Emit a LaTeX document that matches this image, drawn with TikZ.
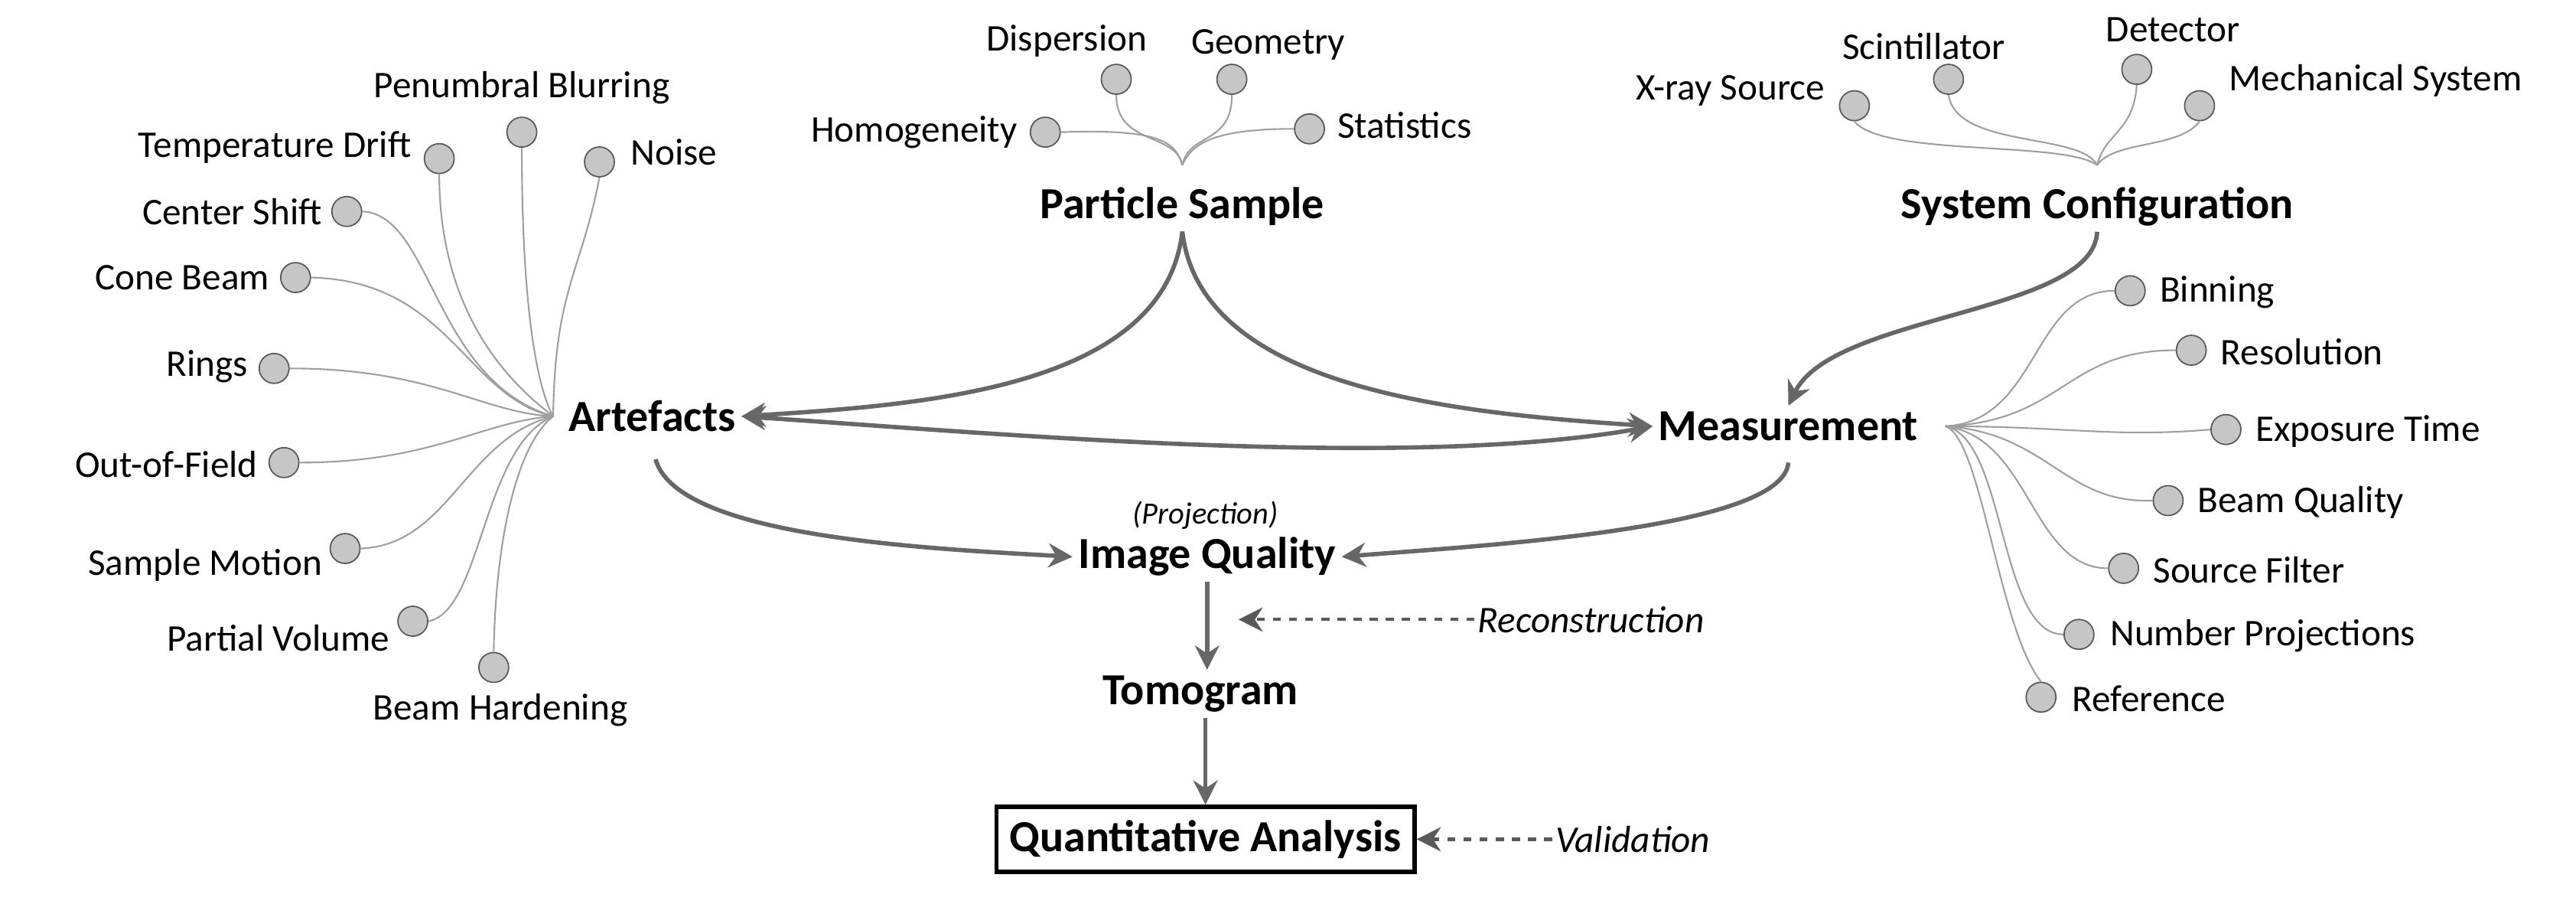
\documentclass[tikz,border=0pt]{standalone}
\usepackage{fontspec}
\setmainfont{Carlito}
\usetikzlibrary{arrows.meta}
\begin{document}
\begin{tikzpicture}[x=0.02158cm,y=-0.02158cm,
  leaf/.style={circle,fill=gray!45,draw=gray!70!black,line width=0.5pt,minimum size=0.39cm,inner sep=0},
  lbl/.style={font=\fontsize{14}{16}\selectfont,inner sep=1pt},
  big/.style={font=\fontsize{16.5}{19}\selectfont\bfseries,inner sep=2pt},
  it/.style={font=\fontsize{14}{16}\selectfont\itshape,inner sep=1pt},
  thinl/.style={draw=gray!75,line width=0.6pt},
  main/.style={draw=gray!60!black!85,line width=1.6pt,-{Stealth[length=9pt,width=9pt]}},
  dasharr/.style={draw=gray!70!black,line width=1.2pt,dashed,-{Stealth[length=9pt,width=9pt]}}]
\useasboundingbox (0,0) rectangle (1560,547);
% hubs
\coordinate (A) at (335,252);
\coordinate (P) at (716,100);
\coordinate (S) at (1270,100);
\coordinate (M) at (1178,258);
% Artefacts leaves
\node[leaf] (td) at (266,96) {}; \node[lbl,anchor=east] (tdl) at (251,89) {Temperature Drift};
\node[leaf] (pb) at (316,80) {}; \node[lbl] (pbl) at (316,53) {Penumbral Blurring};
\node[leaf] (no) at (363,98) {}; \node[lbl,anchor=west] (nol) at (380,92) {Noise};
\node[leaf] (cs) at (210,128) {}; \node[lbl,anchor=east] (csl) at (197,128) {Center Shift};
\node[leaf] (cb) at (179,168) {}; \node[lbl,anchor=east] (cbl) at (165,168) {Cone Beam};
\node[leaf] (ri) at (166,223) {}; \node[lbl,anchor=east] (ril) at (152,222) {Rings};
\node[leaf] (of) at (172,280) {}; \node[lbl,anchor=east] (ofl) at (158,281) {Out-of-Field};
\node[leaf] (sm) at (209,332) {}; \node[lbl,anchor=east] (sml) at (197,342) {Sample Motion};
\node[leaf] (pv) at (250,376) {}; \node[lbl,anchor=east] (pvl) at (238,386) {Partial Volume};
\node[leaf] (bh) at (299,404) {}; \node[lbl] (bhl) at (303,430) {Beam Hardening};
\draw[thinl] (td.south) .. controls (266,200) and (320,240) .. (A);
\draw[thinl] (pb.south) .. controls (316,200) and (328,240) .. (A);
\draw[thinl] (no.south) .. controls (352,165) and (336,175) .. (A);
\draw[thinl] (cs.east) .. controls (262,130) and (262,230) .. (A);
\draw[thinl] (cb.east) .. controls (272,170) and (282,240) .. (A);
\draw[thinl] (ri.east) .. controls (262,223) and (292,250) .. (A);
\draw[thinl] (of.east) .. controls (262,280) and (292,255) .. (A);
\draw[thinl] (sm.east) .. controls (272,330) and (282,265) .. (A);
\draw[thinl] (pv.east) .. controls (292,370) and (292,270) .. (A);
\draw[thinl] (bh.north) .. controls (300,330) and (312,270) .. (A);
% Particle leaves
\node[leaf] (ho) at (633,80) {}; \node[lbl,anchor=east] (hol) at (618,80) {Homogeneity};
\node[leaf] (di) at (676,48) {}; \node[lbl] (dil) at (646,25) {Dispersion};
\node[leaf] (ge) at (746,48) {}; \node[lbl] (gel) at (768,27) {Geometry};
\node[leaf] (st) at (793,78) {}; \node[lbl,anchor=west] (stl) at (808,76) {Statistics};
\draw[thinl] (ho.east) .. controls (700,78) and (712,85) .. (P);
\draw[thinl] (di.south) .. controls (676,88) and (712,80) .. (P);
\draw[thinl] (ge.south) .. controls (746,88) and (720,80) .. (P);
\draw[thinl] (st.west) .. controls (740,78) and (722,85) .. (P);
% System leaves
\node[leaf] (xr) at (1123,64) {}; \node[lbl,anchor=east] (xrl) at (1107,55) {X-ray Source};
\node[leaf] (sc) at (1180,48) {}; \node[lbl] (scl) at (1165,28) {Scintillator};
\node[leaf] (de) at (1294,42) {}; \node[lbl] (del) at (1316,18) {Detector};
\node[leaf] (me) at (1332,64) {}; \node[lbl,anchor=west] (mel) at (1348,49) {Mechanical System};
\draw[thinl] (xr.south) .. controls (1140,95) and (1250,85) .. (S);
\draw[thinl] (sc.south) .. controls (1185,90) and (1260,80) .. (S);
\draw[thinl] (de.south) .. controls (1292,80) and (1275,80) .. (S);
\draw[thinl] (me.south) .. controls (1320,90) and (1280,85) .. (S);
% Measurement leaves
\node[leaf] (bi) at (1290,176) {}; \node[lbl,anchor=west] (bil) at (1306,177) {Binning};
\node[leaf] (re) at (1327,212) {}; \node[lbl,anchor=west] (rel) at (1343,213) {Resolution};
\node[leaf] (ex) at (1348,260) {}; \node[lbl,anchor=west] (exl) at (1364,261) {Exposure Time};
\node[leaf] (bq) at (1313,303) {}; \node[lbl,anchor=west] (bql) at (1329,304) {Beam Quality};
\node[leaf] (sf) at (1286,344) {}; \node[lbl,anchor=west] (sfl) at (1302,345) {Source Filter};
\node[leaf] (np) at (1259,384) {}; \node[lbl,anchor=west] (npl) at (1276,385) {Number Projections};
\node[leaf] (rf) at (1236,422) {}; \node[lbl,anchor=west] (rfl) at (1253,423) {Reference};
\draw[thinl] (bi.west) .. controls (1230,176) and (1235,255) .. (M);
\draw[thinl] (re.west) .. controls (1250,212) and (1250,255) .. (M);
\draw[thinl] (ex.west) .. controls (1280,265) and (1250,258) .. (M);
\draw[thinl] (bq.west) .. controls (1250,305) and (1240,262) .. (M);
\draw[thinl] (sf.west) .. controls (1230,344) and (1230,265) .. (M);
\draw[thinl] (np.west) .. controls (1210,384) and (1215,265) .. (M);
\draw[thinl] (rf.north) .. controls (1210,380) and (1200,265) .. (M);
% main nodes
\node[big] (art) at (395,252) {Artefacts};
\node[big] (ps) at (716,125) {Particle Sample};
\node[big] (sys) at (1270,125) {System Configuration};
\node[big] (mea) at (1083,258) {Measurement};
\node[big] (iq) at (731,337) {Image Quality};
\node[font=\fontsize{11.5}{13}\selectfont\itshape,inner sep=1pt] (proj) at (730,312) {(Projection)};
\node[big] (tom) at (727,420) {Tomogram};
\node[big,draw=black,line width=1.5pt,inner sep=5pt] (qa) at (730,508) {Quantitative Analysis};
\node[it,anchor=west] (rec) at (893,375) {Reconstruction};
\node[it,anchor=west] (val) at (940,508) {Validation};
% main arrows
\draw[main] (ps.south) .. controls (705,235) and (560,245) .. (art.east);
\draw[main] (ps.south) .. controls (727,235) and (880,250) .. (mea.west);
\draw[draw=gray!60!black!85,line width=1.6pt,{Stealth[length=9pt,width=9pt]}-{Stealth[length=9pt,width=9pt]}] (art.east) .. controls (600,262) and (850,285) .. (mea.west);
\draw[main] (sys.south) .. controls (1268,190) and (1110,190) .. (mea.north);
\draw[main] (397,278) .. controls (410,325) and (560,332) .. (iq.west);
\draw[main] (1083,280) .. controls (1080,320) and (900,330) .. (iq.east);
\draw[main] (iq.south) -- (tom.north -| iq.south);
\draw[main] (tom.south -| qa.north) -- (qa.north);
\draw[dasharr] (rec.west) -- (750,375);
\draw[dasharr] (val.west) -- (qa.east);
\end{tikzpicture}
\end{document}
